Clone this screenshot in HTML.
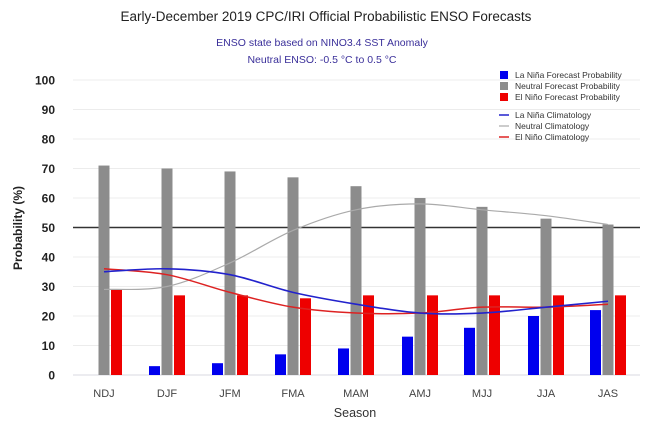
<!DOCTYPE html>
<html><head><meta charset="utf-8"><style>
body{margin:0;background:#fff;width:651px;height:434px;overflow:hidden;font-family:"Liberation Sans","DejaVu Sans",sans-serif}
</style></head><body>
<svg id="s" width="651" height="434" xmlns="http://www.w3.org/2000/svg" font-family="Liberation Sans, DejaVu Sans, sans-serif">
<text x="326" y="21" text-anchor="middle" font-size="13.5" fill="#222">Early-December 2019 CPC/IRI Official Probabilistic ENSO Forecasts</text>
<text x="322" y="46" text-anchor="middle" font-size="10.5" fill="#3a2f9a">ENSO state based on NINO3.4 SST Anomaly</text>
<text x="322" y="63" text-anchor="middle" font-size="10.5" fill="#3a2f9a">Neutral ENSO: -0.5 °C to 0.5 °C</text>
<text transform="translate(22,228) rotate(-90)" text-anchor="middle" font-size="12" font-weight="bold" fill="#222">Probability (%)</text>
<text x="355" y="417" text-anchor="middle" font-size="12.5" fill="#333">Season</text>
<g id="g"></g>
<g font-size="8.5" fill="#333">
<rect x="500" y="71" width="8" height="8" fill="#0000ee"/><text x="515" y="78">La Niña Forecast Probability</text>
<rect x="500" y="82" width="8" height="8" fill="#8c8c8c"/><text x="515" y="89">Neutral Forecast Probability</text>
<rect x="500" y="93" width="8" height="8" fill="#ee0000"/><text x="515" y="100">El Niño Forecast Probability</text>
<line x1="499" y1="115" x2="509" y2="115" stroke="#2222cc" stroke-width="1.5"/><text x="515" y="118">La Niña Climatology</text>
<line x1="499" y1="126" x2="509" y2="126" stroke="#aaa" stroke-width="1.2"/><text x="515" y="129">Neutral Climatology</text>
<line x1="499" y1="137" x2="509" y2="137" stroke="#dd2222" stroke-width="1.5"/><text x="515" y="140">El Niño Climatology</text>
</g>
</svg>
<script>
var g=document.getElementById('g'),h='';
function Y(v){return 375-v*2.95;}
for(var i=0;i<=10;i++){var y=Y(i*10);
 h+='<line x1="73" x2="640" y1="'+y+'" y2="'+y+'" stroke="'+(i==5?'#333':(i==0?'#d8d8e0':'#ececec'))+'" stroke-width="'+(i==5?1.6:1)+'"/>';
 h+='<text x="55" y="'+(y+4.5)+'" text-anchor="end" font-size="12" font-weight="bold" fill="#222">'+(i*10)+'</text>';}
var cx=[104,167,230,293,356,420,482,546,608],lab=['NDJ','DJF','JFM','FMA','MAM','AMJ','MJJ','JJA','JAS'];
var gr=[71,70,69,67,64,60,57,53,51],rd=[29,27,27,26,27,27,27,27,27],bl=[0,3,4,7,9,13,16,20,22];
for(i=0;i<9;i++){var c=cx[i];
 h+='<rect x="'+(c-5.5)+'" y="'+Y(gr[i])+'" width="11" height="'+(gr[i]*2.95)+'" fill="#8c8c8c"/>';
 h+='<rect x="'+(c+7)+'" y="'+Y(rd[i])+'" width="11" height="'+(rd[i]*2.95)+'" fill="#ee0000"/>';
 if(bl[i])h+='<rect x="'+(c-18)+'" y="'+Y(bl[i])+'" width="11" height="'+(bl[i]*2.95)+'" fill="#0000ee"/>';
 h+='<text x="'+c+'" y="397" text-anchor="middle" font-size="11" fill="#444">'+lab[i]+'</text>';}
function path(v,col,w){var p=v.map(function(a,i){return [cx[i],Y(a)];});var d='M'+p[0];
 for(var i=0;i<p.length-1;i++){var p0=p[i-1]||p[i],p1=p[i],p2=p[i+1],p3=p[i+2]||p2;
 d+='C'+(p1[0]+(p2[0]-p0[0])/6)+','+(p1[1]+(p2[1]-p0[1])/6)+' '+(p2[0]-(p3[0]-p1[0])/6)+','+(p2[1]-(p3[1]-p1[1])/6)+' '+p2;}
 return '<path d="'+d+'" fill="none" stroke="'+col+'" stroke-width="'+w+'"/>';}
h+=path([29,30,38,49,56,58,56,54,51],'#aaa',1.2);
h+=path([36,34,28,23,21,21,23,23,24],'#dd2222',1.5);
h+=path([35,36,34,28,24,21,21,23,25],'#2222cc',1.6);
g.innerHTML=h;
</script>
</body></html>
